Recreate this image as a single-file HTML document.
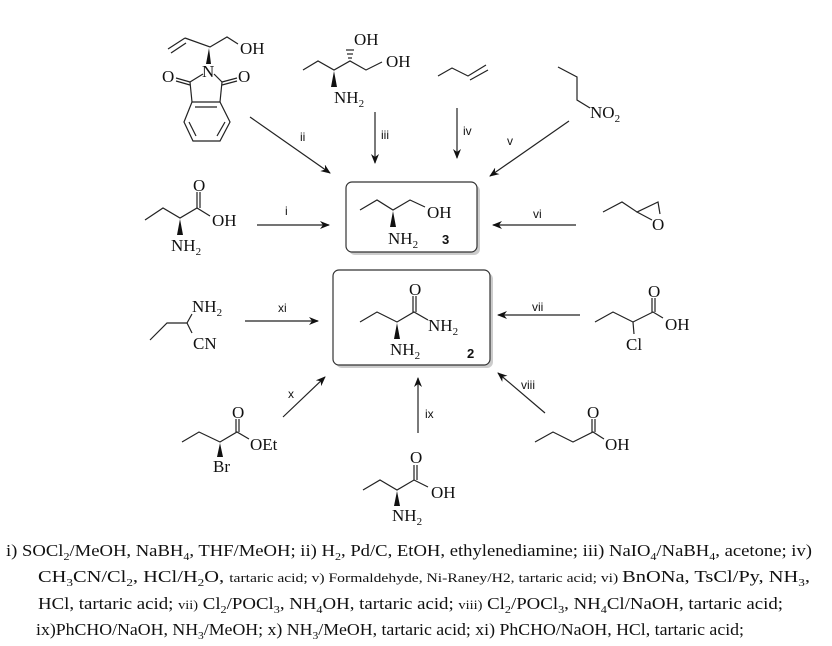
<!DOCTYPE html>
<html><head><meta charset="utf-8"><style>
html,body{margin:0;padding:0;background:#fff;}
svg{display:block;}
.a{font-family:"Liberation Serif",serif;font-size:17px;fill:#111;}
.s{font-family:"Liberation Serif",serif;font-size:11px;fill:#111;}
.l{font-family:"Liberation Sans",sans-serif;font-size:12px;fill:#111;}
.b{font-family:"Liberation Sans",sans-serif;font-size:13px;font-weight:bold;fill:#111;}
.t{font-family:"Liberation Serif",serif;font-size:17px;fill:#111;}
line,polyline,polygon.r{stroke:#222;stroke-width:1.2;fill:none;}
</style></head><body>
<svg width="832" height="646" viewBox="0 0 832 646" xmlns="http://www.w3.org/2000/svg">
<defs><marker id="ar" markerWidth="10" markerHeight="8" refX="9" refY="4" orient="auto" markerUnits="userSpaceOnUse"><path d="M0,0 L10,4 L0,8 L3,4z" fill="#111"/></marker></defs>

<!-- phthalimide compound -->
<line x1="168" y1="49" x2="185" y2="38"/><line x1="171" y1="53" x2="186" y2="43"/>
<polyline points="185,38 210,47 227,37 238,44"/>
<polygon points="209,48 206,64 211,64" fill="#111"/>
<text class="a" x="202" y="77">N</text>
<text class="a" x="240" y="54">OH</text>
<line x1="203" y1="74" x2="190" y2="82"/><line x1="214" y1="74" x2="222" y2="82"/>
<line x1="190" y1="82" x2="176" y2="78"/><line x1="190" y1="85" x2="176" y2="81"/>
<text class="a" x="162" y="82">O</text>
<line x1="222" y1="82" x2="237" y2="78"/><line x1="222" y1="85" x2="237" y2="81"/>
<text class="a" x="238" y="82">O</text>
<line x1="190" y1="82" x2="192" y2="102"/><line x1="222" y1="82" x2="220" y2="102"/>
<polygon class="r" points="192,102 220,102 230,122 220,141 193,141 184,122"/>
<line x1="195" y1="107" x2="217" y2="107"/><line x1="225" y1="122" x2="217" y2="136"/><line x1="196" y1="136" x2="189" y2="122"/>

<!-- amino diol -->
<polyline points="303,70 318,61 334,70 350,61 366,70 382,62"/>
<polygon points="334,71 331,87 337,87" fill="#111"/>
<text class="a" x="334" y="103">NH<tspan class="s" dy="4">2</tspan></text>
<g stroke="#222"><line x1="348" y1="58" x2="352" y2="58"/><line x1="347" y1="54" x2="353" y2="54"/><line x1="346" y1="50" x2="354" y2="50"/></g>
<text class="a" x="354" y="45">OH</text>
<text class="a" x="386" y="67">OH</text>

<!-- butene -->
<polyline points="438,76 452,68 468,76 486,65"/><line x1="470" y1="80" x2="488" y2="70"/>

<!-- nitropropane -->
<polyline points="558,67 577,77 577,100 590,108"/>
<text class="a" x="590" y="118">NO<tspan class="s" dy="4">2</tspan></text>

<!-- arrows top -->
<line x1="250" y1="117" x2="330" y2="173" marker-end="url(#ar)"/><text class="l" x="300" y="141">ii</text>
<line x1="375" y1="112" x2="375" y2="163" marker-end="url(#ar)"/><text class="l" x="381" y="139">iii</text>
<line x1="457" y1="108" x2="457" y2="158" marker-end="url(#ar)"/><text class="l" x="463" y="135">iv</text>
<line x1="569" y1="121" x2="490" y2="176" marker-end="url(#ar)"/><text class="l" x="507" y="145">v</text>
<line x1="257" y1="225" x2="329" y2="225" marker-end="url(#ar)"/><text class="l" x="285" y="215">i</text>
<line x1="576" y1="225" x2="493" y2="225" marker-end="url(#ar)"/><text class="l" x="533" y="218">vi</text>

<!-- left amino acid -->
<polyline points="145,220 163,208 180,218 197,208 210,216"/>
<line x1="197" y1="208" x2="197" y2="192"/><line x1="200" y1="208" x2="200" y2="192"/>
<text class="a" x="193" y="191">O</text>
<text class="a" x="212" y="226">OH</text>
<polygon points="180,219 177,235 183,235" fill="#111"/>
<text class="a" x="171" y="251">NH<tspan class="s" dy="4">2</tspan></text>

<!-- box 3 -->
<rect x="349" y="185" width="131" height="70" rx="6" fill="#ccc"/>
<rect x="346" y="182" width="131" height="70" rx="6" fill="#fff" stroke="#333" stroke-width="1.2"/>
<polyline points="360,210 377,200 393,210 410,200 425,207"/>
<polygon points="393,211 390,227 396,227" fill="#111"/>
<text class="a" x="388" y="244">NH<tspan class="s" dy="4">2</tspan></text>
<text class="a" x="427" y="218">OH</text>
<text class="b" x="442" y="244">3</text>

<!-- epoxide -->
<polyline points="603,212 622,202 637,212 658,202 660,214"/>
<line x1="637" y1="212" x2="652" y2="220"/>
<text class="a" x="652" y="230">O</text>

<!-- box 2 -->
<rect x="336" y="273" width="157" height="95" rx="6" fill="#ccc"/>
<rect x="333" y="270" width="157" height="95" rx="6" fill="#fff" stroke="#333" stroke-width="1.2"/>
<polyline points="360,322 377,312 397,322 414,312 428,320"/>
<line x1="413" y1="312" x2="413" y2="296"/><line x1="416" y1="312" x2="416" y2="296"/>
<text class="a" x="409" y="295">O</text>
<text class="a" x="428" y="331">NH<tspan class="s" dy="4">2</tspan></text>
<polygon points="397,323 394,339 400,339" fill="#111"/>
<text class="a" x="390" y="355">NH<tspan class="s" dy="4">2</tspan></text>
<text class="b" x="467" y="358">2</text>

<!-- aminonitrile -->
<polyline points="150,340 167,323 187,323"/>
<line x1="187" y1="323" x2="192" y2="314"/><line x1="187" y1="323" x2="192" y2="333"/>
<text class="a" x="192" y="312">NH<tspan class="s" dy="4">2</tspan></text>
<text class="a" x="193" y="349">CN</text>
<line x1="245" y1="321" x2="318" y2="321" marker-end="url(#ar)"/><text class="l" x="278" y="312">xi</text>

<!-- chloro acid -->
<line x1="580" y1="315" x2="498" y2="315" marker-end="url(#ar)"/><text class="l" x="532" y="311">vii</text>
<polyline points="595,322 613,312 633,322 653,312 663,318"/>
<line x1="633" y1="322" x2="634" y2="334"/>
<line x1="652" y1="312" x2="652" y2="298"/><line x1="655" y1="312" x2="655" y2="298"/>
<text class="a" x="648" y="297">O</text>
<text class="a" x="665" y="330">OH</text>
<text class="a" x="626" y="350">Cl</text>

<!-- bottom arrows -->
<line x1="283" y1="417" x2="325" y2="377" marker-end="url(#ar)"/><text class="l" x="288" y="398">x</text>
<line x1="418" y1="433" x2="418" y2="378" marker-end="url(#ar)"/><text class="l" x="425" y="418">ix</text>
<line x1="545" y1="413" x2="498" y2="373" marker-end="url(#ar)"/><text class="l" x="521" y="389">viii</text>

<!-- bromo ester -->
<polyline points="182,442 199,432 220,442 237,432 249,439"/>
<line x1="236" y1="432" x2="236" y2="419"/><line x1="239" y1="432" x2="239" y2="419"/>
<text class="a" x="232" y="418">O</text>
<text class="a" x="250" y="450">OEt</text>
<polygon points="220,443 217,457 223,457" fill="#111"/>
<text class="a" x="213" y="472">Br</text>

<!-- butyric acid -->
<polyline points="535,442 553,432 573,442 593,432 604,439"/>
<line x1="592" y1="432" x2="592" y2="419"/><line x1="595" y1="432" x2="595" y2="419"/>
<text class="a" x="587" y="418">O</text>
<text class="a" x="605" y="450">OH</text>

<!-- bottom amino acid -->
<polyline points="363,490 380,480 397,490 414,480 428,487"/>
<line x1="414" y1="480" x2="414" y2="465"/><line x1="417" y1="480" x2="417" y2="465"/>
<text class="a" x="410" y="463">O</text>
<text class="a" x="431" y="498">OH</text>
<polygon points="397,491 394,506 400,506" fill="#111"/>
<text class="a" x="392" y="521">NH<tspan class="s" dy="4">2</tspan></text>

<!-- caption -->
<text class="t" x="6" y="556" textLength="806" lengthAdjust="spacingAndGlyphs">i) SOCl<tspan class="s" dy="4">2</tspan><tspan dy="-4">/MeOH, NaBH</tspan><tspan class="s" dy="4">4</tspan><tspan dy="-4">, THF/MeOH; ii) H</tspan><tspan class="s" dy="4">2</tspan><tspan dy="-4">, Pd/C, EtOH, ethylenediamine;  iii) NaIO</tspan><tspan class="s" dy="4">4</tspan><tspan dy="-4">/NaBH</tspan><tspan class="s" dy="4">4</tspan><tspan dy="-4">, acetone;  iv)</tspan></text>
<text class="t" x="38" y="582" textLength="772" lengthAdjust="spacingAndGlyphs">CH<tspan class="s" dy="4">3</tspan><tspan dy="-4">CN/Cl</tspan><tspan class="s" dy="4">2</tspan><tspan dy="-4">, HCl/H</tspan><tspan class="s" dy="4">2</tspan><tspan dy="-4">O,  </tspan><tspan font-size="13">tartaric acid; v) Formaldehyde, Ni-Raney/H2, tartaric acid; vi) </tspan>BnONa, TsCl/Py, NH<tspan class="s" dy="4">3</tspan><tspan dy="-4">,</tspan></text>
<text class="t" x="38" y="609" textLength="745" lengthAdjust="spacingAndGlyphs">HCl, tartaric acid; <tspan font-size="13">vii)</tspan> Cl<tspan class="s" dy="4">2</tspan><tspan dy="-4">/POCl</tspan><tspan class="s" dy="4">3</tspan><tspan dy="-4">, NH</tspan><tspan class="s" dy="4">4</tspan><tspan dy="-4">OH, tartaric acid; </tspan><tspan font-size="13">viii)</tspan> Cl<tspan class="s" dy="4">2</tspan><tspan dy="-4">/POCl</tspan><tspan class="s" dy="4">3</tspan><tspan dy="-4">, NH</tspan><tspan class="s" dy="4">4</tspan><tspan dy="-4">Cl/NaOH, tartaric acid;</tspan></text>
<text class="t" x="36" y="635" textLength="708" lengthAdjust="spacingAndGlyphs">ix)PhCHO/NaOH, NH<tspan class="s" dy="4">3</tspan><tspan dy="-4">/MeOH;  x) NH</tspan><tspan class="s" dy="4">3</tspan><tspan dy="-4">/MeOH, tartaric acid;  xi) PhCHO/NaOH, HCl, tartaric acid;</tspan></text>
</svg>
</body></html>
